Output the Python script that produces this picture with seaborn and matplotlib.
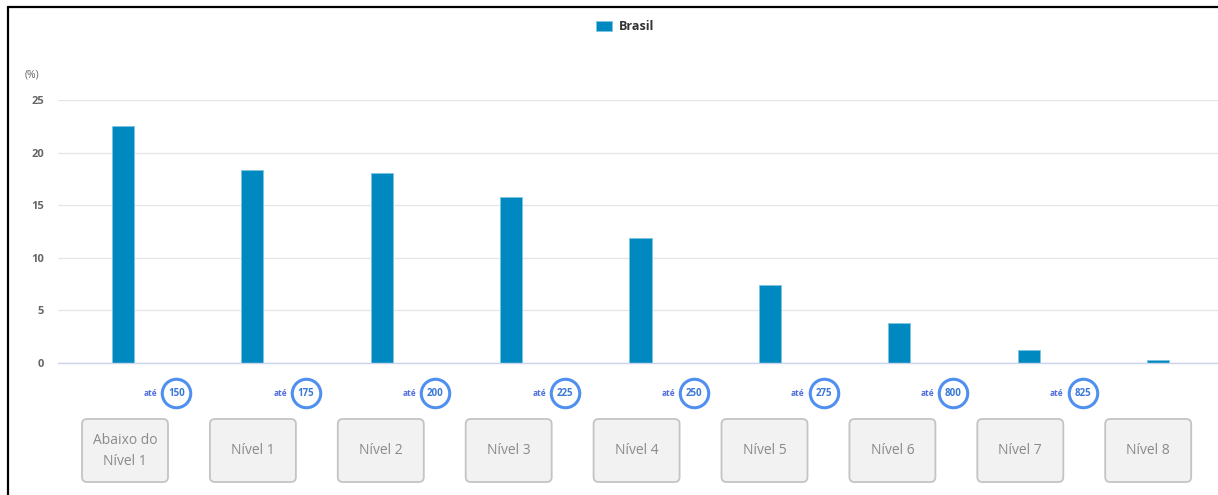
import pandas as pd
import matplotlib.pyplot as plt
import seaborn as sns
from matplotlib.patches import FancyBboxPatch
from matplotlib.lines import Line2D

# data
niveis = ["Abaixo do\nNível 1", "Nível 1", "Nível 2", "Nível 3", "Nível 4",
          "Nível 5", "Nível 6", "Nível 7", "Nível 8"]
brasil = [22.5, 18.35, 18.05, 15.8, 11.9, 7.45, 3.8, 1.25, 0.3]
limites = ["150", "175", "200", "225", "250", "275", "800", "825"]

df = pd.DataFrame({"nivel": niveis, "pct": brasil, "serie": "Brasil"})

sns.set_style("white")
plt.rcParams["font.family"] = ["Open Sans", "DejaVu Sans"]

W, H, DPI = 1218, 495, 100
fig = plt.figure(figsize=(W / DPI, H / DPI), dpi=DPI)
# plot area in pixels: x 58..1223, y 100..363
ax = fig.add_axes([58 / W, (H - 363) / H, 1165 / W, 263 / H])

sns.barplot(data=df, x="nivel", y="pct", hue="serie", palette=["#0088c0"],
            saturation=1, width=0.17, ax=ax, legend=True,
            edgecolor="#7fc3e0", linewidth=0.6)

ax.set_xlim(-0.5, 8.5)
ax.set_ylim(0, 25)
ax.set_yticks([0, 5, 10, 15, 20, 25])
ax.yaxis.grid(True, color="#e6e6e6", linewidth=1)
ax.set_axisbelow(True)
ax.set_xlabel("")
ax.set_ylabel("")
for s in ["top", "right", "left"]:
    ax.spines[s].set_visible(False)
ax.spines["bottom"].set_color("#ccd6eb")
ax.spines["bottom"].set_linewidth(1)

ax.tick_params(axis="y", length=0, pad=10, labelsize=8, labelcolor="#666666")
for t in ax.get_yticklabels():
    t.set_fontweight("bold")
ax.set_xticks(range(len(niveis)))
ax.set_xticklabels([])
ax.tick_params(axis="x", which="major", length=0)
ax.set_xticks([i - 0.5 for i in range(len(niveis) + 1)], minor=True)
ax.tick_params(axis="x", which="minor", length=7, color="#ccd6eb", width=1)

# legend at top
handles, labels = ax.get_legend_handles_labels()
ax.get_legend().remove()
leg = fig.legend(handles, labels, loc="center", bbox_to_anchor=(625 / W, 1 - 27 / H),
                 frameon=False, handlelength=1.3, handleheight=0.9, handletextpad=0.5,
                 prop={"weight": "bold", "size": 9})
for t in leg.get_texts():
    t.set_color("#333333")

fig.text(25 / W, 1 - 75 / H, "(%)", fontsize=7.5, color="#666666", va="center", ha="left")

# "até" markers at the category limits
ycirc = (363 - 393) / 263
for i, lim in enumerate(limites):
    xb = i + 0.5 - 11 / 129.5
    ax.plot([xb], [ycirc], marker="o", ms=20.5, mfc="white", mec="#4f8ff0", mew=2.2,
            transform=ax.get_xaxis_transform(), clip_on=False, zorder=5)
    ax.text(xb, ycirc, lim, transform=ax.get_xaxis_transform(), ha="center", va="center",
            fontsize=7, fontweight="bold", color="#3a78d8", zorder=6)
    ax.text(xb - 19 / 129.5, ycirc, "até", transform=ax.get_xaxis_transform(),
            ha="right", va="center", fontsize=6, fontweight="bold", color="#4f6fe0",
            zorder=6)

# level boxes below the axis (spaced a little tighter than the categories)
for i, nome in enumerate(niveis):
    xc = 125 + i * 127.9
    box = FancyBboxPatch(((xc - 43) / DPI, 13 / DPI), 86 / DPI, 63 / DPI,
                         boxstyle="round,pad=0,rounding_size=0.05",
                         transform=fig.dpi_scale_trans, facecolor="#f2f2f2",
                         edgecolor="#c4c4c4", linewidth=1.3)
    fig.add_artist(box)
    fig.text(xc / W, (H - 451) / H, nome, ha="center", va="center", fontsize=10,
             color="#8a8a8a", linespacing=1.5)

# frame lines at top and left
fig.add_artist(Line2D([8 / W, 1], [1 - 7 / H, 1 - 7 / H], color="black", linewidth=1.6,
                      transform=fig.transFigure))
fig.add_artist(Line2D([8 / W, 8 / W], [0, 1 - 7 / H], color="black", linewidth=1.6,
                      transform=fig.transFigure))

fig.savefig("out.png", dpi=DPI)
